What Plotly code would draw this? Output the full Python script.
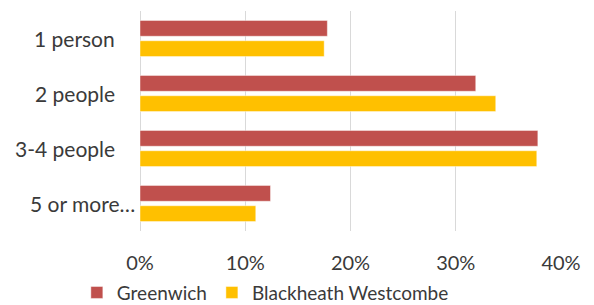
import plotly.graph_objects as go

categories = ["1 person", "2 people", "3-4 people", "5 or more…"]
greenwich = [0.178, 0.319, 0.378, 0.124]
blackheath = [0.175, 0.338, 0.377, 0.110]
tick_vals = [0, 0.1, 0.2, 0.3, 0.4]
tick_text = ["0%", "10%", "20%", "30%", "40%"]
label_shift = [-23, -23, -23, -3]

FONT = "Lato"
TXT = "#3a3a3a"

fig = go.Figure()
fig.add_trace(go.Bar(
    y=categories, x=greenwich, orientation="h", name="Greenwich",
    marker=dict(color="#C0504D", line=dict(color="rgba(255,255,255,0.45)", width=1)),
))
fig.add_trace(go.Bar(
    y=categories, x=blackheath, orientation="h", name="Blackheath Westcombe",
    marker=dict(color="#FFC000", line=dict(color="rgba(255,255,255,0.45)", width=1)),
))

for cat, sh in zip(categories, label_shift):
    fig.add_annotation(x=0, y=cat, xref="x", yref="y", text=cat, showarrow=False,
                       xanchor="right", yanchor="middle", xshift=sh,
                       font=dict(family=FONT, size=21, color=TXT))

fig.update_layout(
    width=594, height=305,
    margin=dict(l=140, r=33, t=11, b=74, autoexpand=False),
    paper_bgcolor="white", plot_bgcolor="white",
    barmode="group", bargap=0.26, bargroupgap=0.22,
    font=dict(family=FONT, size=20, color=TXT),
    showlegend=True,
    legend=dict(orientation="h", x=-0.15, xanchor="left", y=-0.28, yanchor="middle",
                font=dict(family=FONT, size=19, color=TXT), itemclick=False,
                bgcolor="rgba(0,0,0,0)", tracegroupgap=0),
    xaxis=dict(range=[0, 0.4], tickvals=tick_vals, ticktext=tick_text,
               showgrid=True, gridcolor="#D9D9D9", gridwidth=1.3,
               zeroline=True, zerolinecolor="#D9D9D9", zerolinewidth=1.3,
               showline=False, ticks="", ticklabelstandoff=18, automargin=False,
               tickfont=dict(family=FONT, size=20, color=TXT)),
    yaxis=dict(autorange="reversed", showticklabels=False, showgrid=False,
               zeroline=False, showline=False, ticks="", automargin=False),
)

fig.write_html("out.html", config={"displayModeBar": False},
               post_script="document.body.style.margin='0px';document.body.style.overflow='hidden';")
